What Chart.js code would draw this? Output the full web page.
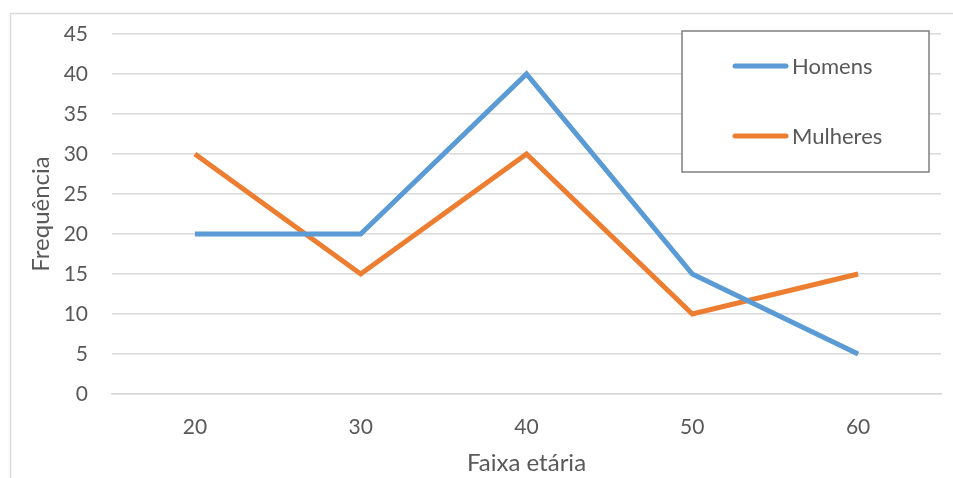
<!DOCTYPE html>
<html>
<head>
<meta charset="utf-8">
<script src="https://cdn.jsdelivr.net/npm/chart.js@4"></script>
<style>
  html, body { margin: 0; padding: 0; background: #fff; }
  #wrap { width: 953px; height: 478px; }
</style>
</head>
<body>
<div id="wrap"><canvas id="faixaChart" width="953" height="478"></canvas></div>
<script>
// Data
const faixas = ['20', '30', '40', '50', '60'];
const homens = [20, 20, 40, 15, 5];
const mulheres = [30, 15, 30, 10, 15];
const yTicks = [0, 5, 10, 15, 20, 25, 30, 35, 40, 45];

const FONT = 'Lato, "Open Sans", sans-serif';
const TEXT = '#595959';

// outer frame + legend box drawn on the canvas
const frameAndLegend = {
    id: 'frameAndLegend',
    beforeDraw(chart) {
        const c = chart.ctx;
        c.save();
        c.strokeStyle = '#d9d9d9';
        c.lineWidth = 1.5;
        c.strokeRect(10.5, 13.5, 1200, 1000);
        c.restore();
    },
    afterDraw(chart) {
        const c = chart.ctx;
        c.save();
        c.fillStyle = '#fff';
        c.fillRect(682, 31, 247, 141);
        c.strokeStyle = '#7f7f7f';
        c.lineWidth = 1.5;
        c.strokeRect(682, 31, 247, 141);
        const rows = [66, 136];
        chart.data.datasets.forEach(function (ds, i) {
            c.strokeStyle = ds.borderColor;
            c.lineWidth = 5;
            c.lineCap = 'round';
            c.beginPath();
            c.moveTo(735, rows[i]);
            c.lineTo(786, rows[i]);
            c.stroke();
            c.fillStyle = TEXT;
            c.font = '22px ' + FONT;
            c.textBaseline = 'middle';
            c.fillText(ds.label, 792, rows[i] + 1);
        });
        c.restore();
    },
};

var ctx = document.getElementById('faixaChart').getContext('2d');
var chart = new Chart(ctx, {
    type: 'line',
    data: {
        labels: faixas,
        datasets: [
            {
                label: 'Homens',
                data: homens,
                borderColor: '#5b9bd5',
                backgroundColor: '#5b9bd5',
                borderWidth: 5,
                borderJoinStyle: 'miter',
                pointRadius: 0,
                tension: 0,
            },
            {
                label: 'Mulheres',
                data: mulheres,
                borderColor: '#ed7d31',
                backgroundColor: '#ed7d31',
                borderWidth: 5,
                borderJoinStyle: 'miter',
                pointRadius: 0,
                tension: 0,
            },
        ],
    },
    options: {
        responsive: false,
        animation: false,
        layout: { padding: { left: 0, top: 34, right: 12, bottom: 0 } },
        plugins: {
            legend: { display: false },
            tooltip: { enabled: false },
        },
        scales: {
            x: {
                offset: true,
                grid: { display: false, drawTicks: false },
                border: { display: true, color: '#d9d9d9', width: 1.5 },
                ticks: { color: TEXT, font: { family: FONT, size: 21 }, padding: 21 },
                title: {
                    display: true,
                    text: 'Faixa etária',
                    color: TEXT,
                    font: { family: FONT, size: 24 },
                    padding: { top: 0, bottom: 0 },
                },
                afterFit(scale) { scale.height = 84; },
            },
            y: {
                min: 0,
                max: 45,
                afterBuildTicks(scale) {
                    scale.ticks = yTicks.map(function (v) { return { value: v }; });
                },
                grid: { color: '#d9d9d9', lineWidth: 1.5, drawTicks: false },
                border: { display: false },
                ticks: { color: TEXT, font: { family: FONT, size: 21 }, padding: 24 },
                title: {
                    display: true,
                    text: 'Frequência',
                    color: TEXT,
                    font: { family: FONT, size: 24 },
                    padding: { top: 27, bottom: 0 },
                },
                afterFit(scale) {
                    scale.width = 112;
                    // let layout.padding decide the top edge
                    scale.paddingTop = 0;
                    scale.paddingBottom = 0;
                },
            },
        },
    },
    plugins: [frameAndLegend],
});
</script>
</body>
</html>
